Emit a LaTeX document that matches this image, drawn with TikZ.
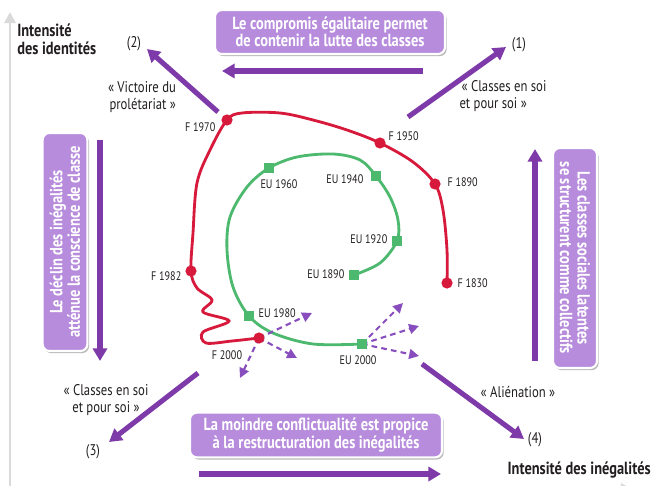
\documentclass[tikz,border=0pt]{standalone}
\usepackage{fontspec}
\setmainfont[FakeStretch=0.82]{PT Sans}
\usetikzlibrary{arrows.meta,shadows}
\definecolor{boxpurple}{RGB}{183,140,220}
\definecolor{arrowpurple}{RGB}{126,58,168}
\definecolor{dashpurple}{RGB}{137,78,190}
\definecolor{fred}{RGB}{215,25,60}
\definecolor{eugreen}{RGB}{76,185,110}
\definecolor{axisgray}{RGB}{218,218,218}
\definecolor{inkgray}{RGB}{35,31,32}

\begin{document}
\begin{tikzpicture}[x=0.025cm,y=-0.025cm,
  msg box/.style={rounded corners=5pt,fill=boxpurple,draw=white,line width=1.5pt,text=white,
    font=\bfseries\fontsize{12.5}{12.5}\selectfont,align=center,inner sep=2pt,
    drop shadow={shadow xshift=1.2pt,shadow yshift=-1.5pt,opacity=0.55}},
  big arrow/.style={arrowpurple,line width=3.6pt,-{Triangle[length=9pt,width=10pt]}},
  dash arrow/.style={dashpurple,line width=1.5pt,dash pattern=on 4pt off 3pt,-{Triangle[length=7pt,width=7pt]}},
  fdot/.style={circle,fill=fred,inner sep=0pt,minimum size=0.28cm},
  eusq/.style={rectangle,fill=eugreen,inner sep=0pt,minimum size=0.27cm},
  yr/.style={text=inkgray,font=\fontsize{8.8}{9.5}\selectfont,inner sep=1pt},
  quote/.style={text=inkgray,font=\fontsize{11}{11.5}\selectfont,align=center,inner sep=1pt},
  axis title/.style={text=inkgray,font=\bfseries\fontsize{12.5}{12.5}\selectfont,inner sep=0pt}]

\useasboundingbox[fill=white] (0,0) rectangle (652,486);

% axes
\coordinate (yaxS) at (10,492);
\coordinate (yaxE) at (10,12);
\coordinate (xaxS) at (10,489);
\coordinate (xaxE) at (632,489);
\draw[axisgray,line width=2pt,-{Triangle[length=8pt,width=8pt]}] (yaxS) -- (yaxE);
\draw[axisgray,line width=2pt,-{Triangle[length=8pt,width=8pt]}] (xaxS) -- (xaxE);
\node[axis title,anchor=north west,align=left] (ident) at (17,24) {Intensité\\des identités};
\node[axis title,anchor=east] (ineg) at (651,470) {Intensité des inégalités};

% the four boxes
\node[msg box,minimum width=5.75cm,minimum height=1.1cm] (compromis) at (330,32)
  {Le compromis égalitaire permet\\de contenir la lutte des classes};
\node[msg box,minimum width=6.3cm,minimum height=1.12cm] (moindre) at (316,435)
  {La moindre conflictualité est propice\\à la restructuration des inégalités};
\node[msg box,rotate=90,minimum width=5.45cm,minimum height=1.12cm] (declin) at (65,242)
  {Le déclin des inégalités\\atténue la conscience de classe};
\node[msg box,rotate=-90,minimum width=5.5cm,minimum height=1.1cm] (latentes) at (575,258)
  {Les classes sociales latentes\\se structurent comme collectifs};

\coordinate (topS) at (423,71);
\coordinate (topE) at (222,71);
\coordinate (botS) at (199,474);
\coordinate (botE) at (441,474);
\coordinate (lefS) at (100,140);
\coordinate (lefE) at (100,361);
\coordinate (rigS) at (535,361);
\coordinate (rigE) at (535,149);
\draw[big arrow] (topS) -- (topE);
\draw[big arrow] (botS) -- (botE);
\draw[big arrow] (lefS) -- (lefE);
\draw[big arrow] (rigS) -- (rigE);

% diagonal arrows
\node[quote] (n1) at (519,45) {(1)};
\node[quote] (n2) at (134,44) {(2)};
\node[quote] (n3) at (93,452) {(3)};
\node[quote] (n4) at (535,440) {(4)};
\coordinate (d1S) at (408,117);
\coordinate (d1E) at (506,47);
\coordinate (d2S) at (218,112);
\coordinate (d2E) at (147,49);
\coordinate (d3S) at (198,373);
\coordinate (d3E) at (109,442);
\coordinate (d4S) at (422,364);
\coordinate (d4E) at (524,439);
\draw[big arrow] (d1S) -- (d1E);
\draw[big arrow] (d2S) -- (d2E);
\draw[big arrow] (d3S) -- (d3E);
\draw[big arrow] (d4S) -- (d4E);
\node[quote] (q1) at (504,96) {« Classes en soi\\\hspace*{-1.4em}et pour soi »};
\node[quote,align=right] (q2) at (142,97) {« Victoire du\\prolétariat »};
\node[quote] (q3) at (106,400) {« Classes en soi\\et pour soi »};
\node[quote] (q4) at (518,392) {« Aliénation »};

% trajectory of France
\coordinate (F1830) at (447,283);
\coordinate (F1890) at (435,184);
\coordinate (F1950) at (380,143);
\coordinate (F1970) at (227,120);
\coordinate (F1982) at (191,271);
\coordinate (F2000) at (259,338);
\draw[fred,line width=2pt] plot[smooth,tension=0.55] coordinates {(F1830) (447,250) (443,210) (F1890)
  (413,162) (F1950) (347,130) (313,120) (280,113) (242,113) (F1970) (210,150) (197,183) (193,233) (F1982)
  (197,288) (212,300) (203,312) (229,321) (203,332) (206,343) (232,341) (F2000)};

% trajectory of the United States
\coordinate (EU1890) at (354,275);
\coordinate (EU1920) at (397,241);
\coordinate (EU1940) at (376,176);
\coordinate (EU1960) at (269,168);
\coordinate (EU1980) at (249,316);
\coordinate (EU2000) at (362,344);
\draw[eugreen,line width=2pt] plot[smooth,tension=0.55] coordinates {(EU1890) (380,263) (EU1920)
  (398,220) (390,197) (EU1940) (360,160) (333,154) (297,157) (EU1960) (247,187) (230,217) (227,250)
  (233,287) (EU1980) (273,333) (313,344) (EU2000)};

% possible futures
\coordinate (fa) at (312,313);
\coordinate (fb) at (297,358);
\coordinate (fc) at (240,378);
\coordinate (ua) at (403,303);
\coordinate (ub) at (419,326);
\coordinate (uc) at (419,356);
\draw[dash arrow] (F2000) -- (fa);
\draw[dash arrow] (F2000) -- (fb);
\draw[dash arrow] (F2000) -- (fc);
\draw[dash arrow] (EU2000) -- (ua);
\draw[dash arrow] (EU2000) -- (ub);
\draw[dash arrow] (EU2000) -- (uc);

\foreach \y in {1830,1890,1950,1970,1982,2000}
  \node[fdot] (f\y) at (F\y) {};
\foreach \y in {1890,1920,1940,1960,1980,2000}
  \node[eusq] (eu\y) at (EU\y) {};

\node[yr,anchor=west] (lf1830) at (456,283) {F 1830};
\node[yr,anchor=west] (lf1890) at (446,182) {F 1890};
\node[yr,anchor=west] (lf1950) at (387,136) {F 1950};
\node[yr,anchor=east] (lf1970) at (217,127) {F 1970};
\node[yr,anchor=east] (lf1982) at (183,276) {F 1982};
\node[yr] (lf2000) at (227,355) {F 2000};
\node[yr,anchor=east] (leu1890) at (346,274) {EU 1890};
\node[yr,anchor=east] (leu1920) at (389,239) {EU 1920};
\node[yr,anchor=east] (leu1940) at (365,179) {EU 1940};
\node[yr] (leu1960) at (279,184) {EU 1960};
\node[yr,anchor=west] (leu1980) at (257,313) {EU 1980};
\node[yr] (leu2000) at (358,360) {EU 2000};
\end{tikzpicture}
\end{document}
